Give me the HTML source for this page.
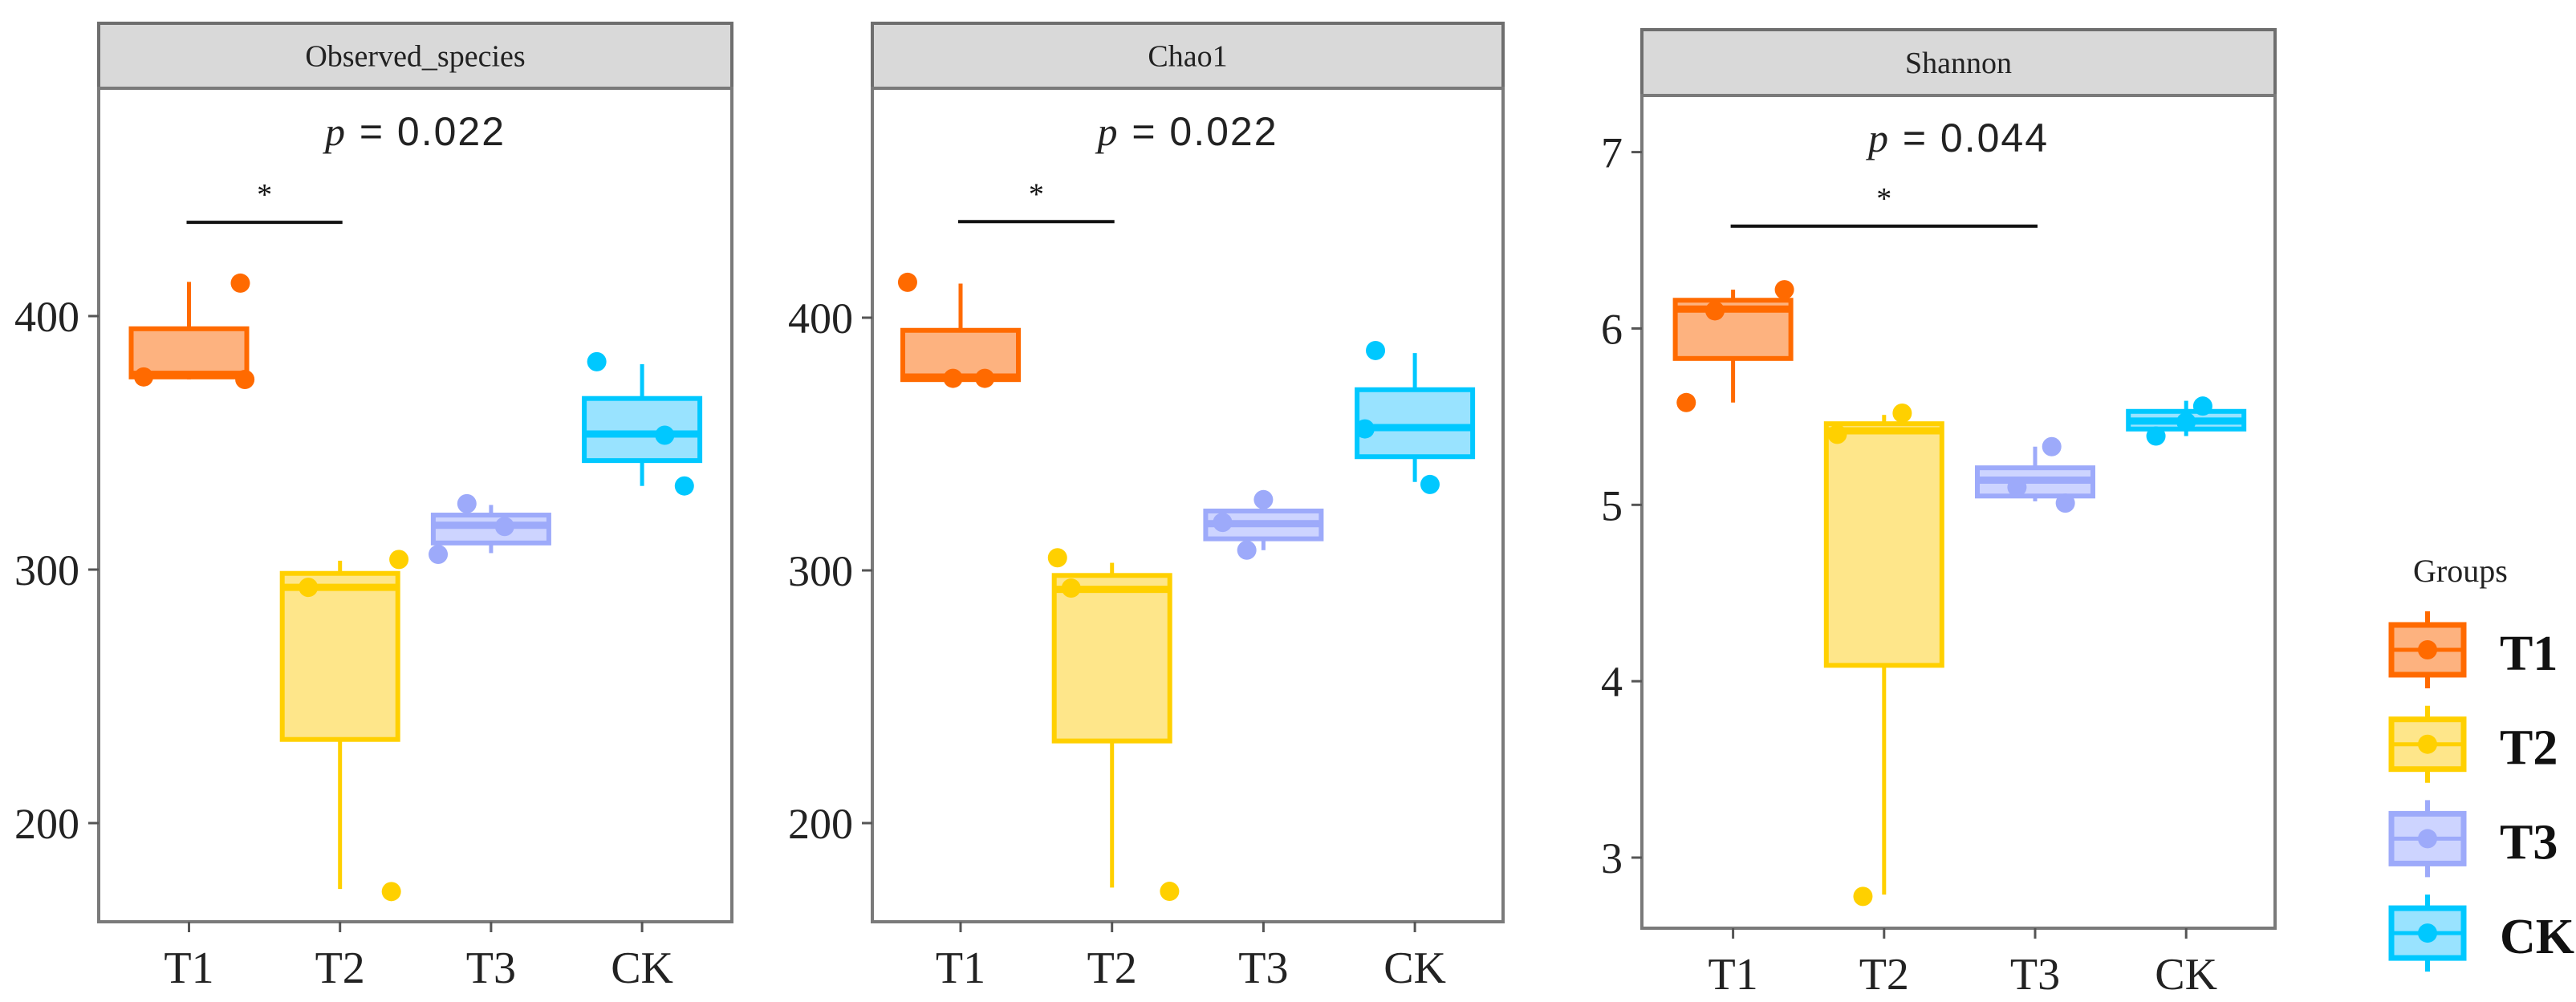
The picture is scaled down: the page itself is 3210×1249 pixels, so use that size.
<!DOCTYPE html>
<html><head><meta charset="utf-8">
<style>
html,body{margin:0;padding:0;background:#fff;}
svg{display:block;}
</style></head>
<body>
<svg id="chart" width="3210" height="1249" viewBox="0 0 3210 1249" xmlns="http://www.w3.org/2000/svg"></svg>
<script>
// ---------- data ----------
const categories = ["T1","T2","T3","CK"];
const panelTitles = ["Observed_species","Chao1","Shannon"];
const pValues = ["0.022","0.022","0.044"];
const yTicks0 = [200,300,400];
const yTicks1 = [200,300,400];
const yTicks2 = [3,4,5,6,7];

// box stats per panel [T1,T2,T3,CK]
const obsQ1 = [376,233,310.5,343];
const obsMed = [377,293,317.5,353.5];
const obsQ3 = [395,298.5,321.5,367.5];
const obsLo = [375,174,306.5,333];
const obsHi = [413.5,303.5,325.5,381];
const obsPoints = [[413,376,375],[304,293,173],[326,317,306],[382,353,333]];
const obsJitter = [[0.34,-0.30,0.37],[0.39,-0.21,0.34],[-0.16,0.09,-0.35],[-0.30,0.15,0.28]];

const chaoQ1 = [375.5,232.5,312.5,345];
const chaoMed = [376.5,292.5,318.5,356.5];
const chaoQ3 = [395,298,323.5,371.5];
const chaoLo = [375,174.5,308,335];
const chaoHi = [413.5,303,327.5,386];
const chaoPoints = [[414,376,376],[305,293,173],[328,319,308],[387,356,334]];
const chaoJitter = [[-0.35,-0.05,0.16],[-0.36,-0.27,0.38],[0.0,-0.27,-0.11],[-0.26,-0.33,0.10]];

const shQ1 = [5.83,4.09,5.05,5.43];
const shMed = [6.11,5.42,5.14,5.475];
const shQ3 = [6.16,5.46,5.21,5.53];
const shLo = [5.58,2.79,5.02,5.39];
const shHi = [6.22,5.51,5.33,5.59];
const shPoints = [[6.22,6.10,5.58],[5.52,5.40,2.78],[5.33,5.10,5.01],[5.56,5.39,5.47]];
const shJitter = [[0.34,-0.12,-0.31],[0.12,-0.31,-0.14],[0.11,-0.12,0.20],[0.11,-0.20,0.0]];

const sigPairs = [[0,1],[0,1],[0,2]];
const sigLevel0 = 437; const sigLevel1 = 438; const sigLevel2 = 6.58;

// ---------- styling / layout ----------
const strokeCols = ["#FF6A00","#FFD000","#9DAAFA","#00C8FF"];
const fillCols = ["#FDB27F","#FEE68A","#CDD4FF","#99E3FF"];
const NS = "http://www.w3.org/2000/svg";
const svg = document.getElementById("chart");
function mk(tag, attrs, parent){
  const e = document.createElementNS(NS, tag);
  for (const k in attrs) e.setAttribute(k, attrs[k]);
  (parent||svg).appendChild(e);
  return e;
}
const layouts = [
  {left:123,right:912,top:29,head:110,bottom:1149,v0:400,p0:394,v1:300,p1:710,x0:235.5,dx:188.2,ticks:yTicks0,
   q1:obsQ1,med:obsMed,q3:obsQ3,lo:obsLo,hi:obsHi,pts:obsPoints,jit:obsJitter,sig:sigLevel0},
  {left:1087,right:1873,top:29,head:110,bottom:1149,v0:400,p0:396,v1:300,p1:711,x0:1197,dx:188.7,ticks:yTicks1,
   q1:chaoQ1,med:chaoMed,q3:chaoQ3,lo:chaoLo,hi:chaoHi,pts:chaoPoints,jit:chaoJitter,sig:sigLevel1},
  {left:2046,right:2835,top:37,head:119,bottom:1157,v0:7,p0:189.6,v1:3,p1:1069,x0:2159.6,dx:188.2,ticks:yTicks2,
   q1:shQ1,med:shMed,q3:shQ3,lo:shLo,hi:shHi,pts:shPoints,jit:shJitter,sig:sigLevel2}
];

layouts.forEach((L, pi) => {
  const g = mk("g", {});
  
  
  const y = v => L.p0 + (v - L.v0) * (L.p1 - L.p0) / (L.v1 - L.v0);
  const x = i => L.x0 + i * L.dx;
  const hw = 72;
  // header strip
  const hdr = mk("rect", {x:L.left, y:L.top, width:L.right-L.left, height:L.head-L.top, fill:"#D9D9D9", stroke:"#6E6E6E", "stroke-width":4}, g);
  
  
  const ht = mk("text", {x:(L.left+L.right)/2, y:(L.top+L.head)/2+13, "text-anchor":"middle", "font-family":"Liberation Serif, serif", "font-size":38, fill:"#222"}, g);
  ht.textContent = panelTitles[pi];
  
  
  // plot frame
  const fr = mk("rect", {x:L.left, y:L.head, width:L.right-L.left, height:L.bottom-L.head, fill:"none", stroke:"#7A7A7A", "stroke-width":4}, g);
  
  
  // y ticks
  L.ticks.forEach(t => {
    mk("line", {x1:L.left-13, x2:L.left, y1:y(t), y2:y(t), stroke:"#555", "stroke-width":3}, g);
    const tl = mk("text", {x:L.left-24, y:y(t)+19, "text-anchor":"end", "font-family":"Liberation Serif, serif", "font-size":54, fill:"#222"}, g);
    tl.textContent = t;
    
    
  });
  // x ticks
  categories.forEach((c, i) => {
    mk("line", {x1:x(i), x2:x(i), y1:L.bottom, y2:L.bottom+13, stroke:"#555", "stroke-width":3}, g);
    const xl = mk("text", {x:x(i), y:L.bottom+76, "text-anchor":"middle", "font-family":"Liberation Serif, serif", "font-size":56, fill:"#222"}, g);
    xl.textContent = c;
    
    
  });
  // p value
  const pt = mk("text", {x:(L.left+L.right)/2, y:(pi==2?171:163)+18, "text-anchor":"middle", "font-family":"Liberation Sans, sans-serif", "font-size":50, fill:"#222", "letter-spacing":2}, g);
  pt.innerHTML = '<tspan font-style="italic" font-family="Liberation Serif, serif">p</tspan> = ' + pValues[pi];
  
  
  // significance bar
  const sp = sigPairs[pi];
  const sb = mk("line", {x1:x(sp[0])-3, x2:x(sp[1])+3, y1:y(L.sig), y2:y(L.sig), stroke:"#111", "stroke-width":4}, g);
  
  
  const st = mk("text", {x:(x(sp[0])+x(sp[1]))/2, y:y(L.sig)-22, "text-anchor":"middle", "font-family":"Liberation Serif, serif", "font-size":38, fill:"#111"}, g);
  st.textContent = "*";
  
  
  // boxes
  categories.forEach((c, i) => {
    const bg = mk("g", {}, g);
    
    
    const cx = x(i);
    mk("line", {x1:cx, x2:cx, y1:y(L.hi[i]), y2:y(L.q3[i]), stroke:strokeCols[i], "stroke-width":5}, bg);
    mk("line", {x1:cx, x2:cx, y1:y(L.q1[i]), y2:y(L.lo[i]), stroke:strokeCols[i], "stroke-width":5}, bg);
    mk("rect", {x:cx-hw, y:y(L.q3[i]), width:2*hw, height:Math.max(y(L.q1[i])-y(L.q3[i]),1), fill:fillCols[i], stroke:strokeCols[i], "stroke-width":6}, bg);
    mk("line", {x1:cx-hw, x2:cx+hw, y1:y(L.med[i]), y2:y(L.med[i]), stroke:strokeCols[i], "stroke-width":9}, bg);
    L.pts[i].forEach((v, k) => {
      const pnt = mk("circle", {cx:cx + L.jit[i][k]*L.dx, cy:y(v), r:12, fill:strokeCols[i]}, bg);
      
      
    });
  });
});

// ---------- legend ----------
const lg = mk("g", {});


const lt = mk("text", {x:3007, y:725, "font-family":"Liberation Serif, serif", "font-size":40, fill:"#222"}, lg);
lt.textContent = "Groups";


categories.forEach((c, i) => {
  const cy = 810 + i * 117.7;
  const e = mk("g", {}, lg);
  
  
  mk("line", {x1:3025, x2:3025, y1:cy-48, y2:cy+48, stroke:strokeCols[i], "stroke-width":6}, e);
  mk("rect", {x:2980, y:cy-31, width:90, height:62, fill:fillCols[i], stroke:strokeCols[i], "stroke-width":7}, e);
  mk("line", {x1:2980, x2:3070, y1:cy, y2:cy, stroke:strokeCols[i], "stroke-width":5}, e);
  mk("circle", {cx:3025, cy:cy, r:12, fill:strokeCols[i]}, e);
  const tx = mk("text", {x:3115, y:cy+25, "font-family":"Liberation Serif, serif", "font-weight":"bold", "font-size":62, fill:"#111"}, e);
  tx.textContent = c;
});
</script>
</body></html>
